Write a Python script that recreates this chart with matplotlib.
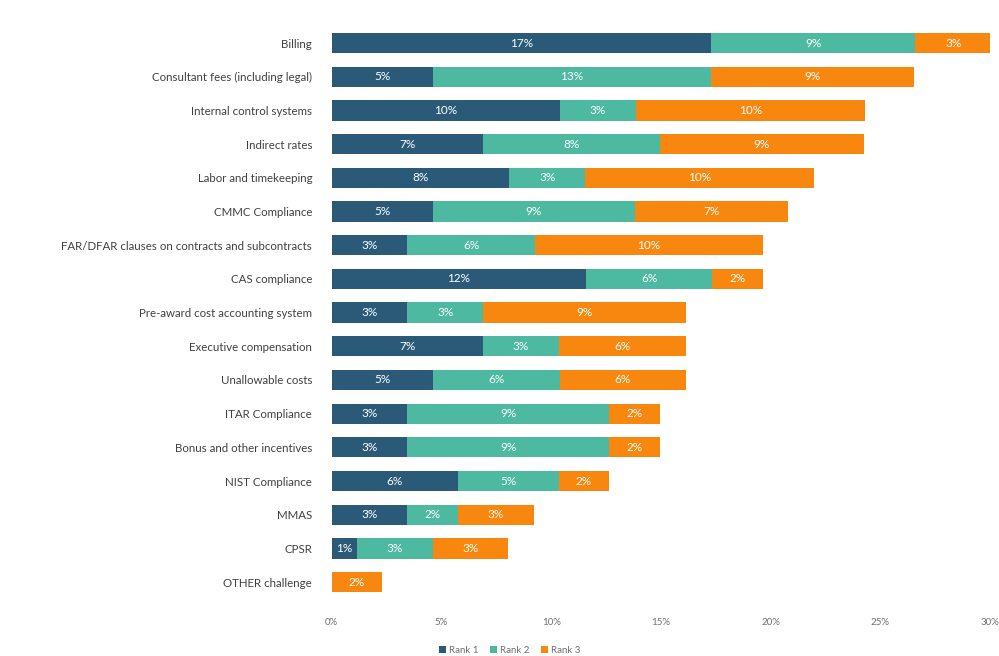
import matplotlib.pyplot as plt
import numpy as np

plt.rcParams['font.family'] = ['Lato', 'DejaVu Sans']

# Data (percent of respondents)
categories = [
    "Billing",
    "Consultant fees (including legal)",
    "Internal control systems",
    "Indirect rates",
    "Labor and timekeeping",
    "CMMC Compliance",
    "FAR/DFAR clauses on contracts and subcontracts",
    "CAS compliance",
    "Pre-award cost accounting system",
    "Executive compensation",
    "Unallowable costs",
    "ITAR Compliance",
    "Bonus and other incentives",
    "NIST Compliance",
    "MMAS",
    "CPSR",
    "OTHER challenge",
]
rank1 = [17.3, 4.6, 10.4, 6.9, 8.1, 4.6, 3.45, 11.6, 3.45, 6.9, 4.6, 3.45, 3.45, 5.75, 3.45, 1.15, 0.0]
rank2 = [9.3, 12.7, 3.45, 8.05, 3.45, 9.2, 5.8, 5.75, 3.45, 3.45, 5.8, 9.2, 9.2, 4.6, 2.3, 3.45, 0.0]
rank3 = [3.45, 9.25, 10.45, 9.3, 10.45, 7.0, 10.4, 2.3, 9.25, 5.8, 5.75, 2.3, 2.3, 2.3, 3.45, 3.45, 2.3]
series_names = ["Rank 1", "Rank 2", "Rank 3"]
colors = ["#2a5a78", "#4cb9a0", "#f7870f"]
xticks = [0, 5, 10, 15, 20, 25, 30]

fig = plt.figure(figsize=(9.99, 6.56), dpi=100)
ax = fig.add_axes([0.332, 0.087, 0.659, 0.873])

y = np.arange(len(categories))
left = np.zeros(len(categories))
for vals, name, col in zip([rank1, rank2, rank3], series_names, colors):
    vals = np.array(vals)
    ax.barh(y, vals, left=left, height=0.6, color=col, label=name)
    for yi, l, v in zip(y, left, vals):
        if v > 0:
            ax.text(l + v / 2, yi, f"{v:.0f}%", ha="center", va="center",
                    color="white", fontsize=8.5)
    left = left + vals

ax.set_ylim(len(categories) - 0.5, -0.5)
ax.set_xlim(0, 30)
ax.set_yticks(y)
ax.set_yticklabels(categories, fontsize=8.3, color="#404040")
ax.set_xticks(xticks)
ax.set_xticklabels([f"{t}%" for t in xticks], fontsize=7, color="#707070")
ax.tick_params(axis="both", length=0)
ax.tick_params(axis="x", pad=14)
ax.tick_params(axis="y", pad=14)
for s in ax.spines.values():
    s.set_visible(False)

fig.legend(loc="lower center", bbox_to_anchor=(0.51, -0.012), ncol=3, frameon=False,
           fontsize=7, handlelength=0.7, handleheight=0.7, handletextpad=0.3,
           columnspacing=1.2, labelcolor="#707070")

plt.savefig("out.png", dpi=100)
